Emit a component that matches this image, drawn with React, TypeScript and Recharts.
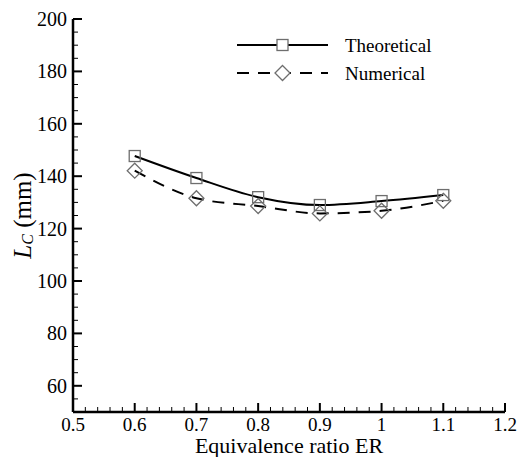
import { LineChart, Line, XAxis, YAxis } from 'recharts';

const equivalenceRatio = [0.6, 0.7, 0.8, 0.9, 1.0, 1.1];
const theoretical = [147.7, 139.3, 132.0, 129.0, 130.5, 132.8];
const numerical = [142.1, 131.6, 128.6, 125.8, 126.8, 130.6];

const xMajorTicks = [0.5, 0.6, 0.7, 0.8, 0.9, 1.0, 1.1, 1.2];
const yMajorTicks = [60, 80, 100, 120, 140, 160, 180, 200];

// minor ticks every 0.02 on x, every 5 on y
const xTicks: number[] = [];
for (let i = 25; i <= 60; i++) xTicks.push(Math.round(i * 2) / 100);
const yTicks: number[] = [];
for (let v = 55; v <= 200; v += 5) yTicks.push(v);

const data = equivalenceRatio.map((er, i) => ({
  er,
  theoretical: theoretical[i],
  numerical: numerical[i],
}));

const FONT = 'Liberation Serif, Tinos, DejaVu Serif, Times New Roman, serif';
const MARKER = '#6e6e6e';
const txt = { fontFamily: FONT, fill: '#000' };

const isMajor = (v: number, majors: number[]) => majors.some((m) => Math.abs(m - v) < 1e-6);

const XTick = (props: any) => {
  const { x, y, payload } = props;
  const v = payload.value as number;
  const major = isMajor(v, xMajorTicks);
  const axisY = y - 4;
  return (
    <g>
      <line x1={x} x2={x} y1={axisY} y2={axisY - (major ? 9 : 5)} stroke="#000" strokeWidth={major ? 2 : 1} />
      {major && (
        <text x={x} y={axisY + 19} textAnchor="middle" fontFamily={FONT} style={{ ...txt, fontSize: 19 }}>
          {Number(v.toFixed(1)).toString()}
        </text>
      )}
    </g>
  );
};

const YTick = (props: any) => {
  const { x, y, payload } = props;
  const v = payload.value as number;
  const major = isMajor(v, yMajorTicks);
  const axisX = x + 6;
  return (
    <g>
      <line x1={axisX} x2={axisX + (major ? 9 : 5)} y1={y} y2={y} stroke="#000" strokeWidth={major ? 2 : 1} />
      {major && (
        <text x={x} y={y + 7} textAnchor="end" fontFamily={FONT} style={{ ...txt, fontSize: 20 }}>
          {v}
        </text>
      )}
    </g>
  );
};

const SquareDot = (props: any) => {
  const { cx, cy, key } = props;
  if (cx == null || cy == null) return <g key={key} />;
  return <rect key={key} x={cx - 5.5} y={cy - 5.5} width={11} height={11} fill="none" stroke={MARKER} strokeWidth={1.3} />;
};

const DiamondDot = (props: any) => {
  const { cx, cy, key } = props;
  if (cx == null || cy == null) return <g key={key} />;
  const r = 7.5;
  return (
    <path
      key={key}
      d={`M${cx},${cy - r} L${cx + r},${cy} L${cx},${cy + r} L${cx - r},${cy} Z`}
      fill="none"
      stroke={MARKER}
      strokeWidth={1.3}
    />
  );
};

const LegendBox = () => (
  <svg width={240} height={60} style={{ position: 'absolute', left: 237, top: 32 }}>
    <line x1={0} x2={91} y1={13} y2={13} stroke="#000" strokeWidth={2} />
    <rect x={40} y={7.5} width={11} height={11} fill="#fff" stroke={MARKER} strokeWidth={1.3} />
    <text x={108} y={20} fontFamily={FONT} style={{ ...txt, fontSize: 19 }}>Theoretical</text>
    <line x1={0} x2={91} y1={41} y2={41} stroke="#000" strokeWidth={2} strokeDasharray="12 9" />
    <path d="M45.5,33.5 L53,41 L45.5,48.5 L38,41 Z" fill="#fff" stroke={MARKER} strokeWidth={1.3} />
    <text x={108} y={48} fontFamily={FONT} style={{ ...txt, fontSize: 19 }}>Numerical</text>
  </svg>
);

export default function App() {
  return (
    <div style={{ position: 'absolute', left: 0, top: 0, width: 518, height: 457, background: '#fff', fontFamily: FONT }}>
      <LineChart width={518} height={457} data={data} margin={{ top: 19, right: 13, left: 0, bottom: 0 }}>
        <XAxis
          dataKey="er"
          type="number"
          domain={[0.5, 1.2]}
          ticks={xTicks}
          interval={0}
          height={45}
          tickSize={0}
          tickMargin={4}
          axisLine={{ stroke: '#000', strokeWidth: 2.5 }}
          tickLine={false}
          tick={<XTick />}
          label={({ viewBox }: any) => (
            <text
              x={viewBox.x + viewBox.width / 2}
              y={453}
              textAnchor="middle"
              fontFamily={FONT}
              style={{ ...txt, fontSize: 22 }}
            >
              Equivalence ratio ER
            </text>
          )}
        />
        <YAxis
          type="number"
          domain={[50, 200]}
          ticks={yTicks}
          interval={0}
          width={73}
          tickSize={0}
          tickMargin={6}
          axisLine={{ stroke: '#000', strokeWidth: 2.5 }}
          tickLine={false}
          tick={<YTick />}
          label={({ viewBox }: any) => {
            const cx = 22;
            const cy = viewBox.y + viewBox.height / 2;
            return (
              <text
                x={cx}
                y={cy}
                transform={`rotate(-90, ${cx}, ${cy})`}
                textAnchor="middle"
                dominantBaseline="central"
                fontFamily={FONT}
                style={{ ...txt, fontSize: 25 }}
              >
                <tspan fontStyle="italic">L</tspan>
                <tspan fontStyle="italic" fontSize={16} dy={5}>C</tspan>
                <tspan dy={-5}> (mm)</tspan>
              </text>
            );
          }}
        />
        <Line
          dataKey="theoretical"
          type="monotone"
          stroke="#000"
          strokeWidth={2}
          dot={<SquareDot />}
          activeDot={false}
          isAnimationActive={false}
        />
        <Line
          dataKey="numerical"
          type="monotone"
          stroke="#000"
          strokeWidth={2}
          strokeDasharray="12 9"
          dot={<DiamondDot />}
          activeDot={false}
          isAnimationActive={false}
        />
      </LineChart>
      <LegendBox />
    </div>
  );
}
